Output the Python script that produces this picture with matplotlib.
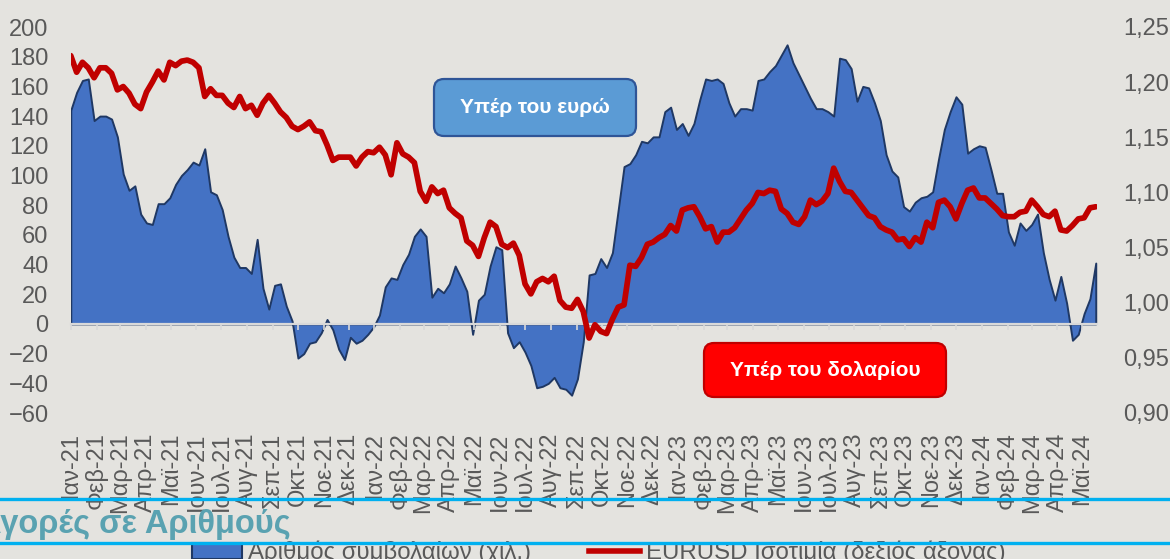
import datetime as dt
import matplotlib
matplotlib.use("Agg")
import matplotlib.pyplot as plt
import matplotlib.dates as mdates
from matplotlib.patches import FancyBboxPatch, Patch
from matplotlib.lines import Line2D
from matplotlib.ticker import FuncFormatter

plt.rcParams['font.family'] = ['Liberation Sans', 'DejaVu Sans']

# ---------------- data ----------------
start_date = dt.date(2021, 1, 5)          # weekly observations (Tuesdays)
n_weeks = 177
dates = [start_date + dt.timedelta(weeks=i) for i in range(n_weeks)]

# net contracts (thousands)
contracts = [
    144, 156, 164, 165, 137, 140, 140, 138, 126, 101,
    90, 93, 74, 68, 67, 81, 81, 85, 94, 100,
    104, 109, 107, 118, 89, 87, 77, 59, 45, 38,
    38, 34, 57, 24, 10, 26, 27, 12, 2, -23,
    -20, -13, -12, -6, 3, -4, -17, -24, -9, -13,
    -11, -7, -2, 6, 25, 31, 30, 40, 47, 59,
    64, 59, 18, 24, 21, 27, 39, 31, 22, -7,
    16, 20, 39, 52, 50, -6, -16, -12, -19, -28,
    -43, -42, -40, -36, -43, -44, -48, -37, -12, 33,
    34, 44, 38, 48, 77, 106, 108, 114, 123, 122,
    126, 126, 143, 146, 131, 135, 127, 135, 151, 165,
    164, 165, 162, 149, 140, 145, 145, 144, 164, 165,
    170, 174, 181, 188, 176, 168, 160, 152, 145, 145,
    143, 140, 179, 178, 172, 150, 160, 159, 149, 137,
    114, 103, 99, 79, 76, 82, 85, 86, 89, 111,
    131, 143, 153, 148, 115, 118, 120, 119, 104, 88,
    88, 62, 53, 68, 63, 67, 74, 48, 30, 16,
    32, 14, -11, -7, 7, 17, 41,
]

# EURUSD exchange rate
eurusd = [
    1.224, 1.209, 1.218, 1.213, 1.204, 1.213, 1.213, 1.208, 1.193, 1.196,
    1.190, 1.180, 1.176, 1.191, 1.200, 1.210, 1.202, 1.218, 1.215, 1.219,
    1.220, 1.218, 1.213, 1.187, 1.194, 1.188, 1.188, 1.181, 1.177, 1.187,
    1.176, 1.179, 1.170, 1.181, 1.188, 1.181, 1.173, 1.168, 1.160, 1.157,
    1.160, 1.164, 1.156, 1.155, 1.143, 1.129, 1.132, 1.132, 1.132, 1.124,
    1.132, 1.137, 1.136, 1.141, 1.134, 1.116, 1.145, 1.135, 1.132, 1.127,
    1.101, 1.092, 1.105, 1.099, 1.102, 1.086, 1.081, 1.077, 1.056, 1.052,
    1.042, 1.059, 1.073, 1.069, 1.053, 1.050, 1.054, 1.043, 1.017, 1.008,
    1.019, 1.022, 1.019, 1.024, 1.002, 0.996, 0.995, 1.003, 0.992, 0.968,
    0.980, 0.974, 0.972, 0.985, 0.996, 0.998, 1.034, 1.033, 1.041, 1.053,
    1.055, 1.059, 1.062, 1.070, 1.065, 1.084, 1.086, 1.087, 1.078, 1.067,
    1.069, 1.055, 1.064, 1.064, 1.068, 1.076, 1.084, 1.090, 1.100, 1.099,
    1.102, 1.101, 1.085, 1.081, 1.073, 1.071, 1.078, 1.093, 1.089, 1.092,
    1.099, 1.122, 1.110, 1.101, 1.100, 1.093, 1.086, 1.079, 1.077, 1.069,
    1.066, 1.064, 1.057, 1.058, 1.051, 1.059, 1.055, 1.073, 1.068, 1.091,
    1.093, 1.087, 1.076, 1.090, 1.102, 1.104, 1.095, 1.095, 1.090, 1.085,
    1.079, 1.078, 1.078, 1.082, 1.083, 1.093, 1.087, 1.080, 1.078, 1.083,
    1.066, 1.065, 1.070, 1.076, 1.077, 1.086, 1.087,
]

months_gr = ['Ιαν', 'Φεβ', 'Μαρ', 'Απρ', 'Μαϊ', 'Ιουν', 'Ιουλ', 'Αυγ',
             'Σεπ', 'Οκτ', 'Νοε', 'Δεκ']
tick_dates = []
for yr in range(2021, 2025):
    for m in range(1, 13):
        if (yr, m) <= (2024, 5):
            tick_dates.append(dt.date(yr, m, 5))
tick_labels = [f"{months_gr[d.month - 1]}-{d.year % 100:02d}" for d in tick_dates]

left_ticks = list(range(-60, 201, 20))
right_ticks = [0.90, 0.95, 1.00, 1.05, 1.10, 1.15, 1.20, 1.25]

series_labels = ['Αριθμός συμβολαίων (χιλ.)', 'EURUSD Ισοτιμία (δεξιός άξονας)']

# ---------------- style ----------------
BG = '#e4e3df'
GREY = '#595959'
BLUE = '#4472c4'
NAVY = '#1f3864'
RED = '#c00000'
W, H = 1170, 559

fig = plt.figure(figsize=(W / 100, H / 100), dpi=100, facecolor=BG)
ax = fig.add_axes([70.8 / W, 1 - 413 / H, (1097 - 70.8) / W, (413 - 27) / H])
ax.set_facecolor('none')

x = mdates.date2num(dates)
xt = mdates.date2num(tick_dates)

ax.fill_between(x, 0, contracts, facecolor=BLUE, edgecolor=NAVY,
                linewidth=1.4, zorder=1)
ax.set_xlim(x[0], x[-1] + 1.5)
ax.set_ylim(-60, 200)
ax.set_yticks(left_ticks)
ax.tick_params(axis='y', length=0, pad=16, labelsize=17, labelcolor=GREY)
for s in ('top', 'right', 'left'):
    ax.spines[s].set_visible(False)
ax.spines['bottom'].set_position(('data', 0))
ax.spines['bottom'].set_color('#d9d9d9')
ax.spines['bottom'].set_linewidth(1.6)
ax.spines['bottom'].set_zorder(3)
ax.set_xticks(xt)
ax.tick_params(axis='x', direction='out', length=4, width=1.2,
               color='#d9d9d9', labelbottom=False)

sec = ax.secondary_xaxis('bottom')
sec.set_xticks(xt, labels=tick_labels)
sec.tick_params(axis='x', length=0, pad=14, labelsize=17,
                labelcolor=GREY, labelrotation=90)
sec.spines['bottom'].set_visible(False)

ax2 = ax.twinx()
ax2.plot(x, eurusd, color=RED, linewidth=4.1, solid_capstyle='round',
         solid_joinstyle='round')
ax2.set_ylim(0.90, 1.25)
ax2.set_yticks(right_ticks)
ax2.yaxis.set_major_formatter(FuncFormatter(lambda v, p: f"{v:.2f}".replace('.', ',')))
ax2.tick_params(axis='y', length=0, pad=19, labelsize=17, labelcolor=GREY)
for s in ax2.spines.values():
    s.set_visible(False)
ax2.set_xlim(ax.get_xlim())

# ---------------- annotation boxes ----------------
def box(x0, y0, x1, y1, fc, ec, text):
    p = FancyBboxPatch((x0 / 100, (H - y1) / 100), (x1 - x0) / 100, (y1 - y0) / 100,
                       boxstyle="round,pad=0,rounding_size=0.1",
                       transform=fig.dpi_scale_trans, facecolor=fc,
                       edgecolor=ec, linewidth=1.6, zorder=10)
    fig.add_artist(p)
    fig.text((x0 + x1) / 2 / W, 1 - (y0 + y1) / 2 / H, text, color='white',
             fontsize=15, fontweight='bold', ha='center', va='center',
             zorder=11)

box(434, 79, 636, 136, '#5b9bd5', '#2f5597', 'Υπέρ του ευρώ')
box(704, 343, 946, 397, '#ff0000', '#c00000', 'Υπέρ του δολαρίου')

# ---------------- footer ----------------
for yy in (499, 543):
    fig.add_artist(Line2D([0, 1], [1 - yy / H, 1 - yy / H], transform=fig.transFigure,
                          color='#00b0f0', linewidth=2.4, zorder=20))
fig.text(-22 / W, 1 - 533 / H, 'Αγορές σε Αριθμούς', color='#5aa2b1',
         fontsize=23.5, fontweight='bold', ha='left', va='baseline', zorder=21)

handles = [Patch(facecolor=BLUE, edgecolor=NAVY, linewidth=1.5),
           Line2D([], [], color=RED, linewidth=4)]
fig.legend(handles, series_labels, loc='upper left',
           bbox_to_anchor=(192 / W, 1 - 541 / H), ncol=2, frameon=False,
           fontsize=17.3, labelcolor=GREY, handlelength=2.1, handleheight=0.6,
           handletextpad=0.25, columnspacing=2.4, borderpad=0, borderaxespad=0)

fig.savefig('out.png', dpi=100, facecolor=BG)
